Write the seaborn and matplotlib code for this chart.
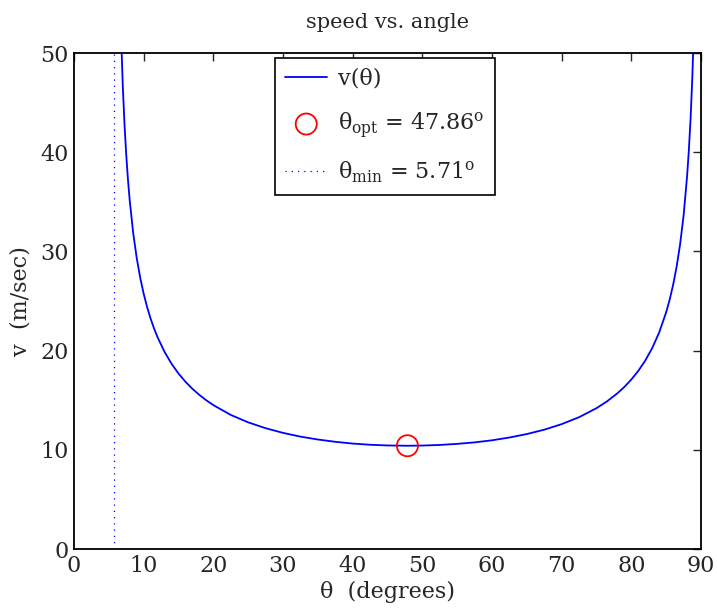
import matplotlib
matplotlib.use("Agg")
import matplotlib.pyplot as plt
import seaborn as sns
import pandas as pd

# values
theta = [6.25, 6.5, 6.75, 7, 7.25, 7.5, 7.75, 8, 8.5, 9, 9.5, 10, 10.5, 11, 11.5, 12,
         13, 14, 15, 16, 17, 18, 19, 20, 22.5, 25, 27.5, 30, 32.5, 35, 37.5, 40, 42.5,
         45, 47.86, 50, 52.5, 55, 57.5, 60, 62.5, 65, 67.5, 70, 72.5, 75, 76.5, 78, 79,
         80, 81, 82, 83, 84, 85, 85.5, 86, 86.5, 87, 87.5, 88, 88.25, 88.5, 88.75, 89]
speed = [72.2, 59.7, 52.05, 46.75, 42.80, 39.71, 37.20, 35.13, 31.84, 29.35, 27.36,
         25.74, 24.38, 23.22, 22.22, 21.34, 19.87, 18.68, 17.69, 16.86, 16.15, 15.53,
         14.99, 14.51, 13.52, 12.77, 12.18, 11.71, 11.33, 11.04, 10.81, 10.63, 10.51,
         10.44, 10.41, 10.43, 10.49, 10.60, 10.75, 10.96, 11.24, 11.59, 12.03, 12.59,
         13.29, 14.20, 14.88, 15.70, 16.34, 17.09, 17.96, 19.00, 20.26, 21.84, 23.87,
         25.14, 26.64, 28.46, 30.72, 33.62, 37.57, 40.15, 43.35, 47.48, 53.07]
theta_opt = 47.86
v_opt = 10.41
theta_min = 5.71
vmin_line = [0, 50]

title = "speed vs. angle"
xlabel = "θ  (degrees)"
ylabel = "v  (m/sec)"
xticks = [0, 10, 20, 30, 40, 50, 60, 70, 80, 90]
yticks = [0, 10, 20, 30, 40, 50]

sns.set_style("white")
plt.rcParams['font.family'] = ['DejaVu Serif']
plt.rcParams['mathtext.fontset'] = 'dejavuserif'

df = pd.DataFrame({"theta": theta, "v": speed})
df_min = pd.DataFrame({"theta": [theta_min, theta_min], "v": vmin_line})
df_opt = pd.DataFrame({"theta": [theta_opt], "v": [v_opt]})

fig = plt.figure(figsize=(7.17, 6.08), dpi=100)
ax = fig.add_axes([0.1032, 0.0970, 0.8745, 0.8158])

sns.lineplot(data=df, x="theta", y="v", ax=ax, color=(0, 0, 1), linewidth=1.3,
             label="v(θ)", sort=False, estimator=None)
sns.scatterplot(data=df_opt, x="theta", y="v", ax=ax, marker="o", s=230,
                facecolor="none", edgecolor="red", linewidth=1.3,
                label="θ$_{\\rm opt}$ = 47.86$^{\\rm o}$", zorder=5)
sns.lineplot(data=df_min, x="theta", y="v", ax=ax, color=(0, 0, 1), linewidth=0.9,
             linestyle=(0, (1, 4)), label="θ$_{\\rm min}$ = 5.71$^{\\rm o}$",
             sort=False, estimator=None)

ax.set_xlim(0, 90)
ax.set_ylim(0, 50)
ax.set_xticks(xticks)
ax.set_yticks(yticks)
ax.tick_params(direction="in", top=True, right=True, length=6, width=1,
               labelsize=16, pad=4)
for s in ax.spines.values():
    s.set_linewidth(1.3)
    s.set_color("black")
ax.set_title(title, fontsize=15, pad=18)
ax.set_xlabel(xlabel, fontsize=16, labelpad=3)
ax.set_ylabel(ylabel, fontsize=16, labelpad=6)

leg = ax.legend(loc="upper center", bbox_to_anchor=(0.4959, 0.99), fontsize=16,
                frameon=True, fancybox=False, edgecolor="black", framealpha=1,
                labelspacing=0.9, handlelength=1.9, handletextpad=0.5,
                borderpad=0.45, borderaxespad=0)
leg.get_frame().set_linewidth(1.2)

fig.savefig("out.png", dpi=100)
